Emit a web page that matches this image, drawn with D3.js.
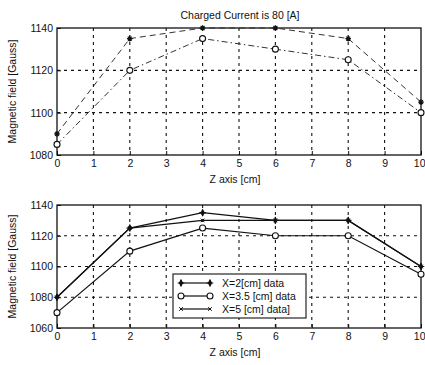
<!DOCTYPE html>
<html>
<head>
<meta charset="utf-8">
<script src="https://cdn.jsdelivr.net/npm/d3@7"></script>
<style>
  body { margin: 0; background: #fff; }
  svg { display: block; }
  text { font-family: "Liberation Sans", Arial, sans-serif; fill: #111; }
</style>
</head>
<body>
<svg id="chart" width="425" height="365"></svg>
<script>
// Z positions [cm]
const zPos = [0, 2, 4, 6, 8, 10];
const xTicks = [0, 1, 2, 3, 4, 5, 6, 7, 8, 9, 10];

// top panel (charged current 80 A)
const topUpper = [1090, 1135, 1140, 1140, 1135, 1105];
const topLower = [1085, 1120, 1135, 1130, 1125, 1100];
const topYTicks = [1080, 1100, 1120, 1140];

// bottom panel
const seriesNames = ['X=2[cm] data', 'X=3.5 [cm] data', 'X=5 [cm] data]'];
const x2Data = [1080, 1125, 1135, 1130, 1130, 1100];
const x35Data = [1070, 1110, 1125, 1120, 1120, 1095];
const x5Data = [1080, 1125, 1130, 1130, 1130, 1100];
const botYTicks = [1060, 1080, 1100, 1120, 1140];

const titleText = 'Charged Current is 80 [A]';
const xLabel = 'Z axis [cm]';
const yLabel = 'Magnetic field [Gauss]';

const svg = d3.select('#chart');
const left = 57, right = 421;

const x = d3.scaleLinear().domain([0, 10]).range([left, right]);

function drawMarker(g, type, px, py) {
  if (type === 'circle') {
    g.append('circle').attr('cx', px).attr('cy', py).attr('r', 3)
      .attr('fill', '#fff').attr('stroke', '#111').attr('stroke-width', 1.1);
  } else if (type === 'star') {
    const s = 2.8;
    g.append('path')
      .attr('d', `M${px - s},${py}H${px + s}M${px},${py - s}V${py + s}` +
        `M${px - s * 0.7},${py - s * 0.7}L${px + s * 0.7},${py + s * 0.7}` +
        `M${px - s * 0.7},${py + s * 0.7}L${px + s * 0.7},${py - s * 0.7}`)
      .attr('stroke', '#111').attr('stroke-width', 1.2).attr('fill', 'none');
  } else if (type === 'filled') {
    g.append('path')
      .attr('d', d3.symbol(d3.symbolDiamond, 18)())
      .attr('transform', `translate(${px},${py})`)
      .attr('fill', '#111');
    const s = 3.3;
    g.append('path')
      .attr('d', `M${px - s},${py}H${px + s}M${px},${py - s}V${py + s}`)
      .attr('stroke', '#111').attr('stroke-width', 1.2);
  } else if (type === 'x') {
    const s = 1.8;
    g.append('path')
      .attr('d', `M${px - s},${py - s}L${px + s},${py + s}M${px - s},${py + s}L${px + s},${py - s}`)
      .attr('stroke', '#111').attr('stroke-width', 1);
  }
}

function panel(top, bottom, yDomain, yTicks, series) {
  const y = d3.scaleLinear().domain(yDomain).range([bottom, top]);
  const g = svg.append('g');

  // grid
  g.append('g').selectAll('line.gx').data(xTicks.slice(1, -1)).join('line')
    .attr('x1', d => x(d)).attr('x2', d => x(d))
    .attr('y1', top).attr('y2', bottom)
    .attr('stroke', '#111').attr('stroke-width', 1.1).attr('stroke-dasharray', '3,4');
  g.append('g').selectAll('line.gy').data(yTicks.slice(1, -1)).join('line')
    .attr('x1', left).attr('x2', right)
    .attr('y1', d => y(d)).attr('y2', d => y(d))
    .attr('stroke', '#111').attr('stroke-width', 1.1).attr('stroke-dasharray', '3,4');

  // axes
  const xa = g.append('g').attr('transform', `translate(0,${bottom})`)
    .call(d3.axisBottom(x).tickValues(xTicks).tickFormat(d3.format('d')).tickSize(-4).tickPadding(5));
  const ya = g.append('g').attr('transform', `translate(${left},0)`)
    .call(d3.axisLeft(y).tickValues(yTicks).tickFormat(d3.format('d')).tickSize(-4).tickPadding(4));
  [xa, ya].forEach(a => {
    a.select('.domain').remove();
    a.selectAll('line').attr('stroke', '#111');
    a.selectAll('text').style('font-size', '10.5px')
      .style('font-family', '"Liberation Sans", Arial, sans-serif').attr('fill', '#111');
  });
  // keep the last x label inside the page
  xa.selectAll('.tick').filter(d => d === 10).select('text').attr('text-anchor', 'end').attr('x', 4);

  g.append('rect').attr('x', left).attr('y', top)
    .attr('width', right - left).attr('height', bottom - top)
    .attr('fill', 'none').attr('stroke', '#111').attr('stroke-width', 1.3);

  // series
  const line = d3.line().x((d, i) => x(zPos[i])).y(d => y(d));
  series.forEach(s => {
    g.append('path').datum(s.values).attr('d', line)
      .attr('fill', 'none').attr('stroke', s.color || '#111')
      .attr('stroke-width', s.width || 1.1)
      .attr('stroke-dasharray', s.dash || null);
    s.values.forEach((v, i) => drawMarker(g, s.marker, x(zPos[i]), y(v)));
  });

  // y label
  svg.append('text')
    .attr('transform', `translate(16,${(top + bottom) / 2}) rotate(-90)`)
    .attr('text-anchor', 'middle').style('font-size', '10.5px').text(yLabel);
  // x label
  svg.append('text').attr('x', (left + right) / 2 - 4).attr('y', bottom + 28)
    .attr('text-anchor', 'middle').style('font-size', '10.5px').text(xLabel);

  return y;
}

// title
svg.append('text').attr('x', 240).attr('y', 19).attr('text-anchor', 'middle')
  .style('font-size', '10.5px').text(titleText);

panel(28, 155, [1080, 1140], topYTicks, [
  { values: topUpper, marker: 'star', dash: '6,4', color: '#333', width: 1 },
  { values: topLower, marker: 'circle', dash: '6,3,1.5,3', color: '#333', width: 1 }
]);

panel(205, 328, [1060, 1140], botYTicks, [
  { values: x5Data, marker: 'x', width: 1.2 },
  { values: x35Data, marker: 'circle', width: 1.2 },
  { values: x2Data, marker: 'filled', width: 1.2 }
]);

// legend
const lg = svg.append('g');
lg.append('rect').attr('x', 173).attr('y', 274).attr('width', 133).attr('height', 44)
  .attr('fill', '#fff').attr('stroke', '#111').attr('stroke-width', 1.1);
const legMarkers = ['filled', 'circle', 'x'];
seriesNames.forEach((name, i) => {
  const ly = 283 + i * 13;
  lg.append('line').attr('x1', 181).attr('x2', 210).attr('y1', ly).attr('y2', ly)
    .attr('stroke', '#111').attr('stroke-width', 1.2);
  drawMarker(lg, legMarkers[i], 181, ly);
  drawMarker(lg, legMarkers[i], 210, ly);
  lg.append('text').attr('x', 222).attr('y', ly + 4).style('font-size', '10.5px').text(name);
});
</script>
</body>
</html>
